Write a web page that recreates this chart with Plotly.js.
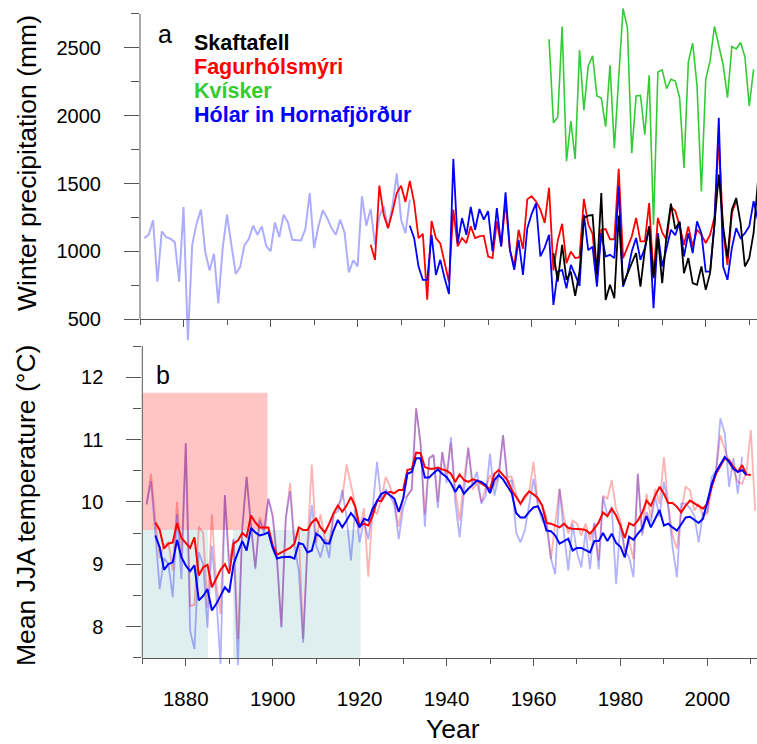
<!DOCTYPE html>
<html><head><meta charset="utf-8">
<script src="https://cdn.plot.ly/plotly-3.0.1.min.js"></script>
<style>html,body{margin:0;padding:0;background:#fff;} #chart{width:757px;height:744px;}</style>
</head><body><div id="chart"></div>
<script>
// ---------------- DATA ----------------
// Panel a: winter precipitation (mm)
const precipLightStart = 1871;
const precipLight = [1098,1123,1229,778,1148,1106,1094,1067,778,1327,
  345,1049,1205,1308,995,860,983,618,1025,1271,
  1049,835,884,1047,1091,1190,1123,1185,1042,1000,
  1214,1106,1271,1214,1086,1086,1081,1165,1431,1025,
  1185,1303,1247,1172,1123,1234,1140,845,935,889,
  1406,1190,1313,1050,1259,1333,1172,1333,1574,1234,
  1135,1382];
const fagurStart = 1923;
const fagurholsmyri = [1049,938,1485,1270,1172,1290,1431,1485,
  1365,1520,1360,1098,1130,645,1225,1098,1060,920,
  775,1308,1037,1099,1062,1185,1099,1111,1116,963,
  951,1222,1037,1369,1012,889,1160,1020,1385,1408,
  1369,1308,1210,1470,860,1080,1204,914,1000,951,
  958,1387,1200,1130,800,1160,1165,1090,1090,1609,
  951,1030,1110,1247,1074,1074,1357,815,1247,1140,
  1086,1328,1300,1190,1049,1185,1037,1160,1123,1062,
  1123,1250,1825,1150,901,1283,1370];
const holarStart = 1932;
const holar = [1190,1098,889,790,790,1123,827,938,803,
  687,1682,1060,1246,1123,1328,1160,1313,1234,1296,
  1000,1320,1037,1436,1012,864,1086,827,1172,1277,
  1355,963,1030,1123,606,852,864,729,901,827,
  746,1271,1010,1035,741,1135,963,975,951,1480,
  741,840,1000,1099,939,1025,1185,581,1135,889,
  1037,1160,1120,1215,963,1135,988,1222,1135,852,
  852,1200,1985,889,791,1025,1172,1099,1135,1185,
  1370,1230];
const skaftStart = 1965;
const skaftafell = [988,778,1049,790,852,672,
  852,1246,1264,1268,830,1431,643,754,655,1264,
  754,840,914,988,741,1012,1185,803,1111,766,
  1123,1352,1165,1220,840,951,766,754,889,717,
  840,1200,1567,1185,951,1308,1394,1210,889,951,
  1136,1520];
const kviskerStart = 1964;
const kvisker = [2564,1948,1992,2658,1665,1961,1682,
  2485,2042,2367,2441,2146,2130,1920,2372,1760,2280,
  2791,2648,1725,2146,2150,1860,2298,1197,2323,2338,
  2200,2269,2256,2133,1616,2395,2535,2220,1443,2269,
  2404,2658,2520,2376,2133,2510,2492,2540,2435,2072,
  2342];

// Panel b: mean JJA temperature (°C)
const tempRedStart = 1871;
const tempRedAnnual = [9.95,10.45,9.7,9.1,9.3,9.35,8.9,10.0,9.1,10.94,
  8.33,8.35,9.6,9.5,8.3,9.8,8.7,8.2,10.1,9.05,
  9.4,7.8,9.55,10.4,9.65,8.95,9.75,9.55,10.05,9.8,
  9.1,8.0,9.7,10.3,9.35,9.55,7.8,9.35,10.6,9.35,
  9.8,9.4,9.35,9.8,9.95,10.05,10.6,10.3,9.95,9.55,
  9.9,8.8,9.9,9.8,10.05,10.4,10.25,10.0,9.6,10.05,
  10.1,10.2,11.5,10.95,9.8,10.7,10.75,10.0,10.8,10.45,
  10.95,10.2,9.7,10.35,10.88,10.2,10.3,10.0,10.2,10.43,
  10.25,10.45,11.07,10.4,10.4,10.13,9.97,10.05,10.15,10.64,
  10.0,9.95,9.75,9.08,9.65,10.21,9.75,9.49,9.7,9.65,
  9.46,9.65,9.38,9.65,9.06,10.1,10.05,10.35,9.89,9.7,
  9.19,9.38,9.08,10.45,9.5,10.13,9.75,10.21,9.97,10.72,
  9.94,9.46,9.25,9.86,10.24,10.19,9.86,9.97,9.78,9.81,
  10.24,10.5,11.07,10.86,10.62,10.51,10.32,10.29,10.48,11.15,
  9.86];
const tempBlueStart = 1871;
const tempBlueAnnual = [9.97,10.33,9.5,8.6,9.1,9.0,8.47,9.8,8.76,10.94,
  7.93,7.64,9.19,9.0,7.98,9.3,8.5,7.4,10.11,8.9,
  9.4,7.38,9.6,10.4,9.6,8.92,9.7,9.5,10.05,9.75,
  9.05,7.98,9.75,10.17,9.3,8.9,7.74,9.25,9.95,9.3,
  9.11,9.4,9.1,9.8,9.85,10.19,9.75,9.06,9.9,9.35,
  9.7,9.4,9.9,10.64,10.0,10.2,10.1,9.95,9.4,9.9,
  10.1,10.2,11.5,10.95,9.6,10.7,10.75,9.9,10.8,10.3,
  11.04,10.0,9.43,10.2,10.86,10.3,10.48,9.97,10.1,10.77,
  10.1,10.4,11.07,10.3,10.35,9.51,9.35,9.54,9.95,10.37,
  9.95,9.7,9.62,9.1,8.84,10.21,9.5,8.9,9.65,9.19,
  8.95,9.54,8.92,9.67,8.92,10.08,9.78,9.92,8.68,9.65,
  9.22,9.11,8.79,10.45,9.46,9.84,9.67,10.08,9.76,10.32,
  9.92,9.27,8.79,9.97,9.97,9.9,9.78,9.35,9.82,9.84,
  10.4,10.5,11.34,11.1,10.24,10.7,10.13,10.72];
const smoothRedStart = 1873;
const tempRedSmooth = [9.67,9.55,9.25,9.33,9.35,9.66,9.42,9.34,
  9.26,9.43,8.82,8.95,8.99,8.63,8.76,8.91,9.0,8.85,
  9.33,9.38,9.50,9.44,9.78,9.67,9.59,9.59,9.59,9.30,
  9.15,9.19,9.23,9.26,9.33,9.59,9.55,9.55,9.67,9.73,
  9.59,9.51,9.65,9.82,9.94,9.84,9.94,10.08,9.92,9.61,
  9.65,9.62,9.78,10.02,10.01,10.13,10.16,10.14,10.19,10.19,
  10.51,10.53,10.79,10.78,10.56,10.53,10.53,10.55,10.52,10.50,
  10.45,10.32,10.44,10.35,10.32,10.36,10.34,10.30,10.25,10.20,
  10.45,10.51,10.43,10.35,10.19,10.08,9.97,10.09,10.17,10.12,
  10.06,9.94,9.66,9.65,9.62,9.59,9.65,9.58,9.57,9.57,
  9.56,9.55,9.49,9.57,9.67,9.83,9.77,9.89,9.78,9.62,
  9.42,9.66,9.62,9.70,9.82,10.02,9.94,10.10,10.24,10.13,
  9.98,9.98,9.92,9.83,9.94,10.02,9.98,9.93,9.89,9.97,
  10.24,10.45,10.57,10.70,10.67,10.56,10.48,10.59,10.44,10.43];
const smoothBlueStart = 1873;
const tempBlueSmooth = [9.46,9.27,8.91,9.0,9.03,9.39,9.11,8.98,
  8.89,8.98,8.42,8.49,8.60,8.26,8.36,8.49,8.63,8.55,
  9.0,9.19,9.37,9.22,9.58,9.51,9.46,9.48,9.51,9.26,
  9.09,9.11,9.11,9.12,9.09,9.34,9.32,9.19,9.22,9.49,
  9.44,9.34,9.33,9.54,9.71,9.59,9.70,9.82,9.73,9.59,
  9.73,9.70,9.89,10.02,10.13,10.16,10.10,10.05,9.84,10.05,
  10.45,10.48,10.70,10.70,10.39,10.39,10.46,10.52,10.45,10.40,
  10.30,10.16,10.27,10.13,10.21,10.28,10.34,10.32,10.27,10.14,
  10.35,10.43,10.36,10.25,10.14,9.82,9.75,9.75,9.84,9.91,
  9.93,9.78,9.54,9.53,9.46,9.33,9.37,9.41,9.22,9.26,
  9.26,9.23,9.19,9.37,9.37,9.50,9.37,9.49,9.34,9.28,
  9.11,9.44,9.39,9.49,9.57,9.77,9.59,9.73,9.87,9.62,
  9.65,9.59,9.54,9.64,9.75,9.76,9.71,9.66,9.73,10.02,
  10.28,10.48,10.59,10.72,10.64,10.53,10.48,10.51,10.43];

// shaded periods in panel b: [x0, x1, y0, y1]
const shadeWarm = [1870, 1898.8, 9.55, 11.75];
const shadeCold = [[1870, 1885.1, 7.5, 9.55], [1890.9, 1920.2, 7.5, 9.55]];

// labels
const stationNames = ['Skaftafell', 'Fagurhólsmýri', 'Kvísker', 'Hólar in Hornafjörður'];
const stationColors = ['#000000', '#ff0000', '#33cc33', '#0000ff'];

// ---------------- LAYOUT GEOMETRY ----------------
function yearsFrom(start, n) { const a = []; for (let i = 0; i < n; i++) a.push(start + i); return a; }
const W = 757, H = 744, ML = 140, MB = 64, PH = H - MB, PW = W - ML;
const py = p => (PH - p) / PH;
const px = p => (p - ML) / PW;

// top panel: 500 at 319.3px, 2750 at 14px
const topRange = [320, 2810];
const kTop = (319.3 - 14) / 2250;
const topDomain = [py(319.3 + (500 - topRange[0]) * kTop), py(14 - (topRange[1] - 2750) * kTop)];
// bottom panel: 7.5 at 657.7px, 12.5 at 346px
const kBot = (657.7 - 346) / 5;
const botRange = [7.5 - (PH - 657.7) / kBot, 12.5];
const botDomain = [0, py(346)];

const FONT = 'Liberation Sans, Arial, Helvetica, sans-serif';
const AX = '#555';

function line(x, y, color, width, xa, ya) {
  return {x: x, y: y, type: 'scatter', mode: 'lines', xaxis: xa, yaxis: ya,
    line: {color: color, width: width}, hoverinfo: 'skip', showlegend: false};
}

const traces = [
  line(yearsFrom(precipLightStart, precipLight.length), precipLight, 'rgba(0,0,255,0.32)', 2, 'x', 'y'),
  line(yearsFrom(kviskerStart, kvisker.length), kvisker, stationColors[2], 1.6, 'x', 'y'),
  line(yearsFrom(fagurStart, fagurholsmyri.length), fagurholsmyri, stationColors[1], 1.8, 'x', 'y'),
  line(yearsFrom(holarStart, holar.length), holar, stationColors[3], 1.8, 'x', 'y'),
  line(yearsFrom(skaftStart, skaftafell.length), skaftafell, stationColors[0], 1.8, 'x', 'y'),
  line(yearsFrom(tempRedStart, tempRedAnnual.length), tempRedAnnual, 'rgba(255,0,0,0.3)', 1.8, 'x2', 'y2'),
  line(yearsFrom(tempBlueStart, tempBlueAnnual.length), tempBlueAnnual, 'rgba(0,0,255,0.3)', 1.8, 'x2', 'y2'),
  line(yearsFrom(smoothRedStart, tempRedSmooth.length), tempRedSmooth, '#ff0000', 2, 'x2', 'y2'),
  line(yearsFrom(smoothBlueStart, tempBlueSmooth.length), tempBlueSmooth, '#0000ff', 2, 'x2', 'y2')
];

const shapes = [];
shadeCold.forEach(s => shapes.push({type: 'rect', xref: 'x2', yref: 'y2', x0: s[0], x1: s[1], y0: s[2], y1: s[3],
  fillcolor: '#dfeeee', line: {width: 0}, layer: 'below'}));
shapes.push({type: 'rect', xref: 'x2', yref: 'y2', x0: shadeWarm[0], x1: shadeWarm[1], y0: shadeWarm[2], y1: shadeWarm[3],
  fillcolor: 'rgba(255,0,0,0.23)', line: {width: 0}, layer: 'below'});
// y-axis lines limited to tick span
shapes.push({type: 'line', xref: 'paper', yref: 'y', x0: 0, x1: 0, y0: 500, y1: 2750, line: {color: AX, width: 1}});
shapes.push({type: 'line', xref: 'paper', yref: 'y2', x0: px(142.3), x1: px(142.3), y0: 7.5, y1: 12.5, line: {color: AX, width: 1}});

const annotations = [
  {text: 'Winter precipitation (mm)', xref: 'paper', yref: 'paper', x: px(27), y: py(163), textangle: -90,
   showarrow: false, xanchor: 'center', yanchor: 'middle', font: {family: FONT, size: 26.5, color: '#000'}},
  {text: 'Mean JJA temperature (°C)', xref: 'paper', yref: 'paper', x: px(26), y: py(506), textangle: -90,
   showarrow: false, xanchor: 'center', yanchor: 'middle', font: {family: FONT, size: 26.5, color: '#000'}},
  {text: 'Year', xref: 'paper', yref: 'paper', x: px(453), y: py(729), showarrow: false,
   xanchor: 'center', yanchor: 'middle', font: {family: FONT, size: 26.5, color: '#000'}},
  {text: 'a', xref: 'paper', yref: 'paper', x: px(165), y: py(34), showarrow: false,
   xanchor: 'center', yanchor: 'middle', font: {family: FONT, size: 25, color: '#000'}},
  {text: 'b', xref: 'paper', yref: 'paper', x: px(163), y: py(375), showarrow: false,
   xanchor: 'center', yanchor: 'middle', font: {family: FONT, size: 25, color: '#000'}}
];
const legendY = [42.7, 66.7, 90.7, 115];
stationNames.forEach((n, i) => annotations.push({text: '<b>' + n + '</b>', xref: 'paper', yref: 'paper',
  x: px(192), y: py(legendY[i]), showarrow: false, xanchor: 'left', yanchor: 'middle',
  font: {family: FONT, size: 21.5, color: stationColors[i]}}));

const layout = {
  width: W, height: H, margin: {l: ML, r: 0, t: 0, b: MB, pad: 0},
  paper_bgcolor: '#fff', plot_bgcolor: 'rgba(0,0,0,0)', showlegend: false,
  font: {family: FONT, size: 20, color: '#000'},
  xaxis: {domain: [0, 1], range: [1870, 2011.78], anchor: 'free', position: py(319.3),
    tick0: 1880, dtick: 20, showticklabels: false,
    ticks: 'outside', ticklen: 7, tickcolor: AX,
    minor: {tick0: 1870, dtick: 20, ticks: 'outside', ticklen: 5, tickcolor: AX, showgrid: false},
    showline: true, linecolor: AX, linewidth: 1, showgrid: false, zeroline: false},
  yaxis: {domain: topDomain, range: topRange, anchor: 'x',
    tick0: 500, dtick: 500, ticks: 'outside', ticklen: 15, tickcolor: AX, ticklabelstandoff: 19,
    minor: {tick0: 500, dtick: 250, ticks: 'outside', ticklen: 8, tickcolor: AX, showgrid: false},
    tickfont: {family: FONT, size: 20, color: '#000'},
    showline: false, showgrid: false, zeroline: false},
  xaxis2: {domain: [px(142.3), 1], range: [1870, 2011.42], anchor: 'free', position: py(657.7),
    tick0: 1880, dtick: 20,
    ticks: 'outside', ticklen: 7, tickcolor: AX, ticklabelstandoff: 16,
    minor: {tick0: 1870, dtick: 20, ticks: 'outside', ticklen: 5, tickcolor: AX, showgrid: false},
    tickfont: {family: FONT, size: 20.5, color: '#000'},
    showline: true, linecolor: AX, linewidth: 1, showgrid: false, zeroline: false},
  yaxis2: {domain: botDomain, range: botRange, anchor: 'x2',
    tick0: 8, dtick: 1, ticks: 'outside', ticklen: 15, tickcolor: AX, ticklabelstandoff: 19,
    minor: {tick0: 7.5, dtick: 0.5, ticks: 'outside', ticklen: 8, tickcolor: AX, showgrid: false},
    tickfont: {family: FONT, size: 20, color: '#000'},
    showline: false, showgrid: false, zeroline: false},
  shapes: shapes,
  annotations: annotations
};

Plotly.newPlot('chart', traces, layout, {staticPlot: true, displayModeBar: false});
</script></body></html>
